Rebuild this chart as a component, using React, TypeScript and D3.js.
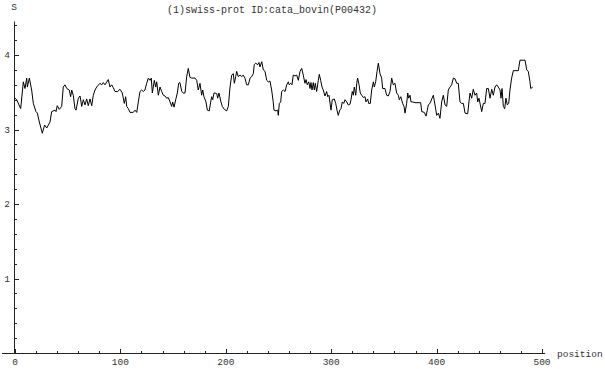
import React, { useEffect, useRef } from 'react';
import * as d3 from 'd3';

// vertices of the profile (position, S)
const positions = [
  0, 1.6, 3.8, 5.4, 7.9, 9.5, 11.1, 11.7, 13.6, 15.8, 17.4, 19.9, 21.2, 23.1, 25.9, 28.1, 30.1, 33.2, 34.8, 38.0,
  38.9, 40.1, 42.0, 44.3, 45.8, 47.4, 49.1, 51.5, 52.8, 53.8, 55.3, 56.9, 57.9, 60.1, 61.7, 63.3, 64.8, 66.4, 68.0, 69.5,
  71.2, 72.8, 74.3, 75.9, 77.5, 80.6, 82.3, 83.8, 85.4, 88.5, 90.1, 91.7, 93.3, 94.9, 97.4, 99.6, 101.8, 103.7, 105.0, 106.0,
  107.5, 109.1, 112.2, 113.9, 115.5, 117.0, 118.6, 120.2, 121.7, 123.3, 124.9, 126.5, 128.1, 129.3, 130.3, 132.2, 133.5, 134.4, 136.0, 137.6,
  139.2, 140.7, 142.3, 143.9, 145.4, 147.1, 148.7, 149.6, 150.9, 152.8, 154.0, 155.3, 156.5, 158.2, 159.7, 161.3, 162.9, 164.4, 166.0, 167.6,
  170.8, 172.4, 173.9, 175.5, 177.1, 178.1, 179.3, 181.2, 182.5, 184.3, 185.7, 186.6, 187.6, 188.8, 189.8, 191.4, 192.3, 193.5, 195.4, 196.7,
  198.6, 200.9, 202.4, 204.0, 205.6, 207.1, 208.1, 209.4, 210.3, 211.9, 213.5, 215.1, 216.6, 218.2, 219.8, 221.4, 223.0, 224.6, 226.1, 227.0,
  228.4, 230.3, 231.5, 232.4, 234.1, 235.6, 237.2, 238.8, 240.3, 241.9, 243.5, 245.0, 245.7, 247.6, 249.2, 249.8, 250.8, 252.1, 253.0, 254.6,
  256.2, 257.8, 259.3, 260.2, 261.6, 262.8, 264.0, 265.7, 267.3, 268.8, 270.4, 272.0, 273.5, 275.1, 276.1, 277.3, 278.7, 279.9, 280.8, 281.8,
  283.0, 284.0, 284.9, 286.2, 287.8, 288.7, 290.0, 291.3, 292.5, 294.1, 295.7, 296.7, 297.9, 299.8, 301.0, 302.9, 304.3, 305.5, 306.7, 308.1,
  309.3, 310.5, 311.9, 313.1, 314.7, 316.2, 317.8, 318.8, 320.0, 321.0, 321.9, 323.3, 324.2, 325.1, 326.4, 327.6, 328.9, 330.5, 332.1, 333.0,
  334.6, 335.6, 337.1, 338.4, 340.0, 340.9, 342.2, 343.5, 344.7, 346.3, 347.9, 348.8, 351.0, 352.6, 354.2, 355.8, 357.4, 358.9, 360.5, 362.1,
  363.7, 364.6, 366.0, 367.8, 369.1, 370.0, 371.6, 372.6, 373.5, 374.8, 375.7, 377.3, 379.5, 384.9, 385.9, 388.3, 390.0, 391.2, 392.1, 393.7,
  395.4, 396.9, 398.5, 400.1, 401.7, 403.2, 404.8, 406.4, 408.0, 409.6, 411.1, 412.7, 414.3, 415.9, 417.5, 419.1, 420.6, 422.2, 423.8, 425.4,
  427.0, 429.5, 430.7, 431.7, 433.3, 434.8, 436.4, 438.0, 439.0, 440.2, 441.5, 442.8, 444.3, 445.9, 447.5, 449.1, 450.7, 452.3, 453.8, 455.4,
  457.0, 458.5, 460.2, 461.1, 462.1, 463.3, 464.6, 465.8, 467.1, 468.4, 469.6, 471.2, 472.8, 477.5, 479.1, 483.9, 485.5, 487.0, 488.6, 489.3,
  491.2,
];

const sValues = [
  3.42, 3.40, 3.33, 3.28, 3.64, 3.55, 3.69, 3.57, 3.69, 3.53, 3.35, 3.24, 3.22, 3.10, 2.95, 3.06, 3.02, 3.10, 3.24, 3.26,
  3.24, 3.32, 3.27, 3.31, 3.57, 3.60, 3.55, 3.53, 3.44, 3.53, 3.46, 3.28, 3.26, 3.42, 3.45, 3.31, 3.40, 3.33, 3.41, 3.32,
  3.41, 3.32, 3.46, 3.53, 3.57, 3.62, 3.60, 3.63, 3.60, 3.67, 3.57, 3.60, 3.56, 3.51, 3.51, 3.54, 3.49, 3.35, 3.44, 3.31,
  3.28, 3.23, 3.23, 3.26, 3.23, 3.37, 3.51, 3.53, 3.51, 3.53, 3.62, 3.69, 3.66, 3.69, 3.49, 3.66, 3.57, 3.64, 3.46, 3.57,
  3.51, 3.46, 3.45, 3.42, 3.43, 3.37, 3.31, 3.37, 3.30, 3.42, 3.49, 3.62, 3.63, 3.51, 3.49, 3.49, 3.71, 3.82, 3.70, 3.69,
  3.69, 3.66, 3.53, 3.62, 3.46, 3.53, 3.44, 3.37, 3.26, 3.25, 3.37, 3.44, 3.40, 3.49, 3.49, 3.48, 3.42, 3.49, 3.37, 3.31,
  3.27, 3.25, 3.31, 3.57, 3.73, 3.75, 3.62, 3.71, 3.78, 3.71, 3.73, 3.71, 3.73, 3.69, 3.60, 3.60, 3.69, 3.71, 3.75, 3.87,
  3.89, 3.87, 3.90, 3.84, 3.91, 3.80, 3.78, 3.66, 3.64, 3.65, 3.53, 3.37, 3.26, 3.25, 3.26, 3.19, 3.35, 3.37, 3.51, 3.53,
  3.51, 3.60, 3.64, 3.60, 3.62, 3.60, 3.73, 3.72, 3.73, 3.66, 3.78, 3.82, 3.73, 3.62, 3.67, 3.60, 3.64, 3.55, 3.63, 3.53,
  3.63, 3.53, 3.62, 3.51, 3.66, 3.74, 3.66, 3.57, 3.53, 3.45, 3.51, 3.44, 3.46, 3.26, 3.40, 3.41, 3.35, 3.26, 3.19, 3.26,
  3.28, 3.37, 3.35, 3.40, 3.37, 3.33, 3.34, 3.40, 3.51, 3.46, 3.57, 3.46, 3.62, 3.69, 3.60, 3.49, 3.46, 3.43, 3.44, 3.37,
  3.41, 3.35, 3.35, 3.53, 3.64, 3.57, 3.64, 3.78, 3.89, 3.75, 3.69, 3.55, 3.55, 3.46, 3.45, 3.51, 3.69, 3.60, 3.62, 3.49,
  3.46, 3.40, 3.44, 3.35, 3.31, 3.22, 3.35, 3.49, 3.42, 3.46, 3.37, 3.37, 3.36, 3.36, 3.24, 3.23, 3.18, 3.26, 3.33, 3.35,
  3.41, 3.46, 3.33, 3.19, 3.22, 3.15, 3.37, 3.46, 3.33, 3.31, 3.53, 3.57, 3.60, 3.69, 3.68, 3.62, 3.62, 3.37, 3.35, 3.35,
  3.22, 3.21, 3.37, 3.49, 3.42, 3.54, 3.46, 3.49, 3.37, 3.42, 3.33, 3.24, 3.35, 3.35, 3.55, 3.55, 3.42, 3.54, 3.46, 3.57,
  3.60, 3.57, 3.53, 3.42, 3.55, 3.31, 3.28, 3.42, 3.33, 3.35, 3.53, 3.69, 3.79, 3.79, 3.93, 3.93, 3.80, 3.78, 3.64, 3.55,
  3.57,
];

const xMajorTicks = [0, 100, 200, 300, 400, 500];
const yMajorTicks = [1, 2, 3, 4];
const title = '(1)swiss-prot ID:cata_bovin(P00432)';
const xLabel = 'position';
const yLabel = 'S';

const W = 605;
const H = 369;
const FONT = '"Courier New", "Liberation Mono", monospace';

const App = () => {
  const ref = useRef<HTMLDivElement>(null);

  useEffect(() => {
    const root = d3.select(ref.current);
    root.selectAll('svg').remove();

    const svg = root
      .append('svg')
      .attr('width', W)
      .attr('height', H)
      .style('position', 'absolute')
      .style('left', 0)
      .style('top', 0)
      .style('background', '#fff');

    const x = d3.scaleLinear().domain([0, 500]).range([15, 542]);
    const y = d3.scaleLinear().domain([0, 4]).range([353, 55]);

    const axisColor = '#222';
    const textColor = '#333';

    // x axis
    svg.append('line')
      .attr('x1', 2).attr('x2', x(503))
      .attr('y1', y(0) + 0.5).attr('y2', y(0) + 0.5)
      .attr('stroke', axisColor).attr('stroke-width', 1);

    const xMinor = d3.range(0, 501, 20).filter(v => !xMajorTicks.includes(v));
    svg.append('g').selectAll('line.xminor').data(xMinor).enter().append('line')
      .attr('x1', d => Math.round(x(d)) + 0.5).attr('x2', d => Math.round(x(d)) + 0.5)
      .attr('y1', y(0)).attr('y2', y(0) - 2)
      .attr('stroke', axisColor);
    svg.append('g').selectAll('line.xmajor').data(xMajorTicks).enter().append('line')
      .attr('x1', d => Math.round(x(d)) + 0.5).attr('x2', d => Math.round(x(d)) + 0.5)
      .attr('y1', y(0)).attr('y2', y(0) - 4)
      .attr('stroke', axisColor);
    svg.append('g').selectAll('text').data(xMajorTicks).enter().append('text')
      .attr('x', d => x(d)).attr('y', y(0) + 12)
      .attr('text-anchor', 'middle')
      .attr('font-family', FONT).attr('font-size', 9.5)
      .attr('fill', textColor)
      .text(d => d);

    svg.append('text')
      .attr('x', 557).attr('y', y(0) + 4)
      .attr('font-family', FONT).attr('font-size', 9.5)
      .attr('fill', textColor)
      .text(xLabel);

    // y axis
    svg.append('line')
      .attr('x1', 14.5).attr('x2', 14.5)
      .attr('y1', y(0)).attr('y2', y(4.45))
      .attr('stroke', axisColor).attr('stroke-width', 1);

    const yMinor = d3.range(1, 23).map(i => i * 0.2).filter(v => Math.abs(v - Math.round(v)) > 0.01);
    svg.append('g').selectAll('line.yminor').data(yMinor).enter().append('line')
      .attr('x1', 15).attr('x2', 17)
      .attr('y1', d => Math.round(y(d)) + 0.5).attr('y2', d => Math.round(y(d)) + 0.5)
      .attr('stroke', axisColor);
    svg.append('g').selectAll('line.ymajor').data(yMajorTicks).enter().append('line')
      .attr('x1', 15).attr('x2', 19)
      .attr('y1', d => Math.round(y(d)) + 0.5).attr('y2', d => Math.round(y(d)) + 0.5)
      .attr('stroke', axisColor);
    svg.append('g').selectAll('text').data(yMajorTicks).enter().append('text')
      .attr('x', 10).attr('y', d => y(d) + 3)
      .attr('text-anchor', 'end')
      .attr('font-family', FONT).attr('font-size', 9.5)
      .attr('fill', textColor)
      .text(d => d);

    svg.append('text')
      .attr('x', 14).attr('y', 10)
      .attr('text-anchor', 'middle')
      .attr('font-family', FONT).attr('font-size', 9.5)
      .attr('fill', textColor)
      .text(yLabel);

    svg.append('text')
      .attr('x', 272).attr('y', 13)
      .attr('text-anchor', 'middle')
      .attr('font-family', FONT).attr('font-size', 10)
      .attr('fill', textColor)
      .text(title);

    // profile
    const pts = positions.map((p, i) => [p, sValues[i]] as [number, number]);
    const line = d3.line<[number, number]>()
      .x(d => x(d[0]))
      .y(d => y(d[1]));

    svg.append('path')
      .datum(pts)
      .attr('d', line)
      .attr('fill', 'none')
      .attr('stroke', '#000')
      .attr('stroke-width', 1)
      .attr('stroke-linejoin', 'miter');
  }, []);

  return <div ref={ref}></div>;
};

export default App;
